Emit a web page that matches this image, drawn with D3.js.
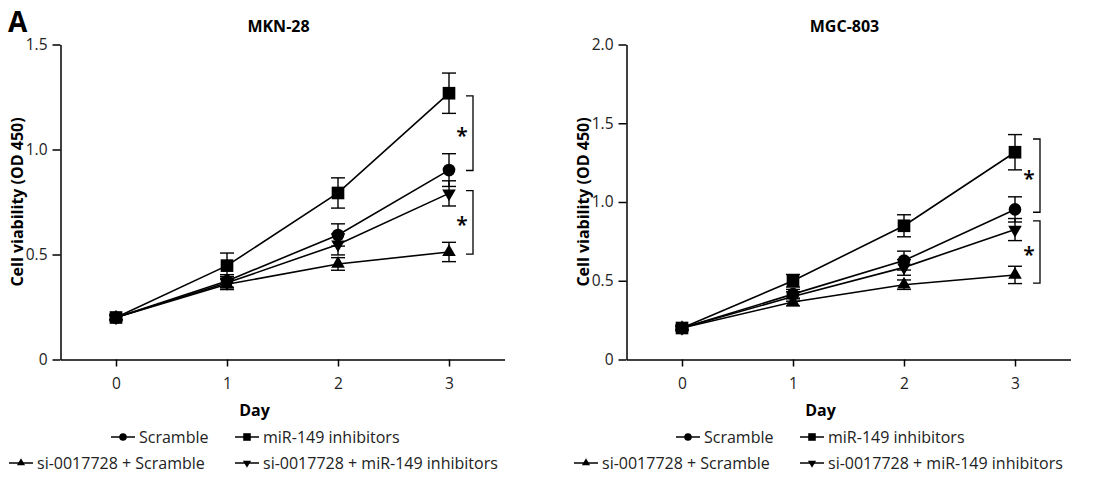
<!DOCTYPE html>
<html><head><meta charset="utf-8">
<script src="https://cdn.jsdelivr.net/npm/d3@7"></script>
<style>
html,body{margin:0;padding:0;background:#fff;}
svg{display:block;font-family:"Open Sans",sans-serif;}
</style></head><body>
<svg id="chart" width="1107" height="477"></svg>
<script>
// ---------- data ----------
const days = [0, 1, 2, 3];
const xTickLabels = ["0", "1", "2", "3"];
const seriesNames = ["Scramble", "miR-149 inhibitors", "si-0017728 + Scramble", "si-0017728 + miR-149 inhibitors"];
const seriesSymbols = ["circle", "square", "triangleUp", "triangleDown"];
const panelTitles = ["MKN-28", "MGC-803"];
const mknYTicks = [0, 0.5, 1.0, 1.5];
const mgcYTicks = [0, 0.5, 1.0, 1.5, 2.0];

// MKN-28
const mknScramble    = [0.20, 0.374, 0.593, 0.902];
const mknScrambleErr = [0.01, 0.030, 0.053, 0.078];
const mknMiR         = [0.20, 0.447, 0.793, 1.268];
const mknMiRErr      = [0.01, 0.060, 0.072, 0.096];
const mknSiScr       = [0.20, 0.358, 0.455, 0.512];
const mknSiScrErr    = [0.01, 0.025, 0.030, 0.046];
const mknSiMiR       = [0.20, 0.365, 0.548, 0.791];
const mknSiMiRErr    = [0.01, 0.030, 0.050, 0.060];
const mknBrackets    = [[1.255, 0.90], [0.804, 0.502]];

// MGC-803
const mgcScramble    = [0.20, 0.415, 0.628, 0.953];
const mgcScrambleErr = [0.01, 0.030, 0.060, 0.080];
const mgcMiR         = [0.20, 0.500, 0.849, 1.316];
const mgcMiRErr      = [0.01, 0.040, 0.070, 0.112];
const mgcSiScr       = [0.20, 0.365, 0.475, 0.537];
const mgcSiScrErr    = [0.01, 0.025, 0.030, 0.055];
const mgcSiMiR       = [0.20, 0.400, 0.585, 0.825];
const mgcSiMiRErr    = [0.01, 0.030, 0.050, 0.070];
const mgcBrackets    = [[1.40, 0.935], [0.88, 0.485]];

// ---------- layout ----------
const panels = [
  { title: panelTitles[0], left: 60.5, yMax: 1.5, yTicks: mknYTicks,
    means: [mknScramble, mknMiR, mknSiScr, mknSiMiR],
    errs: [mknScrambleErr, mknMiRErr, mknSiScrErr, mknSiMiRErr],
    brackets: mknBrackets, bracketOff: 24, legendOff: 0 },
  { title: panelTitles[1], left: 626.5, yMax: 2.0, yTicks: mgcYTicks,
    means: [mgcScramble, mgcMiR, mgcSiScr, mgcSiMiR],
    errs: [mgcScrambleErr, mgcMiRErr, mgcSiScrErr, mgcSiMiRErr],
    brackets: mgcBrackets, bracketOff: 25, legendOff: 565 }
];
const plotW = 444, yTop = 44.5, yBot = 359.5;
const legendTextX = [139, 263, 37, 263];
const legendRowY = [437, 463];

const svg = d3.select("#chart");

svg.append("text").attr("x", 8).attr("y", 32)
  .attr("font-size", 28).attr("font-weight", "bold").text("A");

function symPath(type, scale) {
  const map = { circle: [d3.symbolCircle, 125], square: [d3.symbolSquare, 160],
                triangleUp: [d3.symbolTriangle, 80], triangleDown: [d3.symbolTriangle, 80] };
  const [t, s] = map[type];
  return d3.symbol().type(t).size(s * scale * scale)();
}

panels.forEach(p => {
  const g = svg.append("g");
  const x = d3.scaleLinear().domain([-0.5, 3.5]).range([p.left, p.left + plotW]);
  const y = d3.scaleLinear().domain([0, p.yMax]).range([yBot, yTop]);

  // axes
  const yAxis = d3.axisLeft(y).tickValues(p.yTicks).tickSize(8).tickSizeOuter(0).tickPadding(5)
    .tickFormat(d => d === 0 ? "0" : d3.format(".1f")(d));
  const ya = g.append("g").attr("transform", `translate(${p.left},0)`).call(yAxis);
  const xAxis = d3.axisBottom(x).tickValues(days).tickSize(7).tickSizeOuter(0).tickPadding(11)
    .tickFormat((d, i) => xTickLabels[i]);
  const xa = g.append("g").attr("transform", `translate(0,${yBot})`).call(xAxis);
  [ya, xa].forEach(a => {
    a.selectAll("path,line").attr("stroke", "#000").attr("stroke-width", 1.5);
    a.selectAll("text").attr("font-size", 15.5).attr("fill", "#222").attr("font-family", '"Open Sans",sans-serif');
  });

  // titles
  g.append("text").attr("x", p.left + 218).attr("y", 31.5).attr("text-anchor", "middle")
    .attr("font-size", 16).attr("font-weight", "bold").text(p.title);
  g.append("text").attr("x", p.left + 194).attr("y", 416).attr("text-anchor", "middle")
    .attr("font-size", 16).attr("font-weight", "bold").text("Day");
  g.append("text").attr("transform", `translate(${p.left - 44},202) rotate(-90)`)
    .attr("text-anchor", "middle").attr("dominant-baseline", "central")
    .attr("font-size", 16).attr("font-weight", "bold").text("Cell viability (OD 450)");

  const line = d3.line().x((d, i) => x(days[i])).y(d => y(d));

  // lines
  p.means.forEach(m => {
    g.append("path").attr("d", line(m)).attr("fill", "none")
      .attr("stroke", "#000").attr("stroke-width", 1.6);
  });
  // error bars
  p.means.forEach((m, si) => {
    m.forEach((v, i) => {
      const e = p.errs[si][i];
      const cx = x(days[i]);
      const eg = g.append("g").attr("stroke", "#000").attr("stroke-width", 1.4);
      eg.append("line").attr("x1", cx).attr("x2", cx).attr("y1", y(v - e)).attr("y2", y(v + e));
      eg.append("line").attr("x1", cx - 7).attr("x2", cx + 7).attr("y1", y(v + e)).attr("y2", y(v + e));
      eg.append("line").attr("x1", cx - 7).attr("x2", cx + 7).attr("y1", y(v - e)).attr("y2", y(v - e));
    });
  });
  // markers
  p.means.forEach((m, si) => {
    m.forEach((v, i) => {
      const rot = seriesSymbols[si] === "triangleDown" ? " rotate(180)" : "";
      g.append("path").attr("d", symPath(seriesSymbols[si], 1))
        .attr("transform", `translate(${x(days[i])},${y(v)})${rot}`).attr("fill", "#000");
    });
  });
  // significance brackets
  p.brackets.forEach(b => {
    const bx = x(3) + p.bracketOff;
    g.append("path").attr("d", `M${bx - 7},${y(b[0])}H${bx}V${y(b[1])}H${bx - 7}`)
      .attr("fill", "none").attr("stroke", "#000").attr("stroke-width", 1.3);
    const my = (y(b[0]) + y(b[1])) / 2;
    g.append("text").attr("x", bx - 11).attr("y", my + 10).attr("text-anchor", "middle")
      .attr("font-size", 21).attr("font-weight", 600).text("*");
  });
  // legend
  seriesNames.forEach((name, si) => {
    const tx = legendTextX[si] + p.legendOff;
    const ly = legendRowY[si < 2 ? 0 : 1];
    g.append("line").attr("x1", tx - 28).attr("x2", tx - 4).attr("y1", ly).attr("y2", ly)
      .attr("stroke", "#000").attr("stroke-width", 1.5);
    const rot = seriesSymbols[si] === "triangleDown" ? " rotate(180)" : "";
    g.append("path").attr("d", symPath(seriesSymbols[si], 0.6))
      .attr("transform", `translate(${tx - 16},${ly})${rot}`).attr("fill", "#000");
    g.append("text").attr("x", tx).attr("y", ly).attr("dy", "0.35em")
      .attr("font-size", 16).attr("fill", "#222").text(name);
  });
});
</script>
</body></html>
